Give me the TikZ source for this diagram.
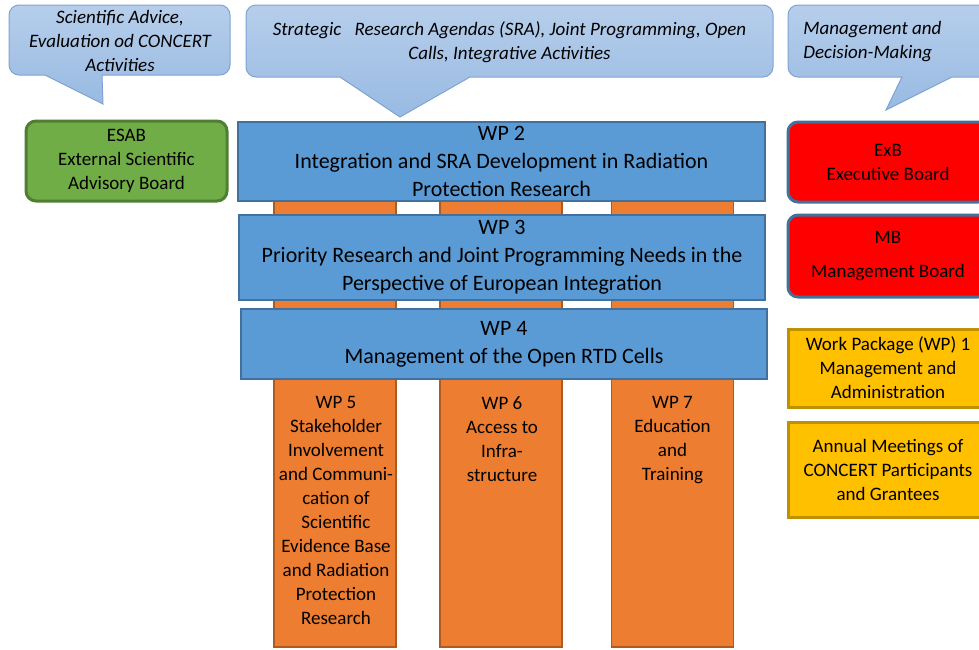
\documentclass[tikz,border=0pt]{standalone}
\usepackage{fontspec}
\setmainfont{Carlito}
\usetikzlibrary{calc, positioning}
\definecolor{wpblue}{HTML}{5B9BD5}
\definecolor{wpblueline}{HTML}{41719C}
\definecolor{wporange}{HTML}{ED7D31}
\definecolor{wporangeline}{HTML}{AE5A21}
\definecolor{esabgreen}{HTML}{70AD47}
\definecolor{esabline}{HTML}{507E32}
\definecolor{boardred}{HTML}{FF0000}
\definecolor{mgmtyellow}{HTML}{FFC000}
\definecolor{mgmtline}{HTML}{BF9000}
\definecolor{bubbletop}{HTML}{B6CEEB}
\definecolor{bubblebottom}{HTML}{98BAE2}
\definecolor{bubbleline}{HTML}{7FA3D3}
\tikzset
{%
wpbox/.style={draw=wpblueline, fill=wpblue, line width=1.2pt, align=center, inner sep=0pt, font=\fontsize{11}{14}\selectfont},
wpcol/.style={draw=wporangeline, fill=wporange, line width=0.8pt, minimum width=61pt, minimum height=223.5pt, inner sep=0pt},
coltext/.style={align=center, inner sep=0pt, font=\fontsize{9.5}{12}\selectfont},
sidebox/.style={line width=1.5pt, align=center, inner sep=0pt, minimum width=100pt, font=\fontsize{9.5}{12}\selectfont},
board/.style={sidebox, draw=wpblueline, fill=boardred, rounded corners=5pt},
mgmt/.style={sidebox, draw=mgmtline, fill=mgmtyellow},
bubble/.style={draw=bubbleline, top color=bubbletop, bottom color=bubblebottom, line width=0.5pt},
bubbletext/.style={align=center, inner sep=0pt, font=\fontsize{9.5}{12}\selectfont\itshape}
}

\begin{document}
\begin{tikzpicture}[x=0.5pt, y=-0.5pt]
	\useasboundingbox (0,0) rectangle (979,649);
	\clip (0,0) rectangle (979,649);

	%Callouts
	\draw[bubble] (103,104) -- (102,75) [rounded corners=5pt] -- (230,75) -- (230,5) -- (9,5) -- (9,75) [sharp corners] -- (45,75) -- cycle;
	\node[bubbletext] (advice) at (120,40.5) {Scientific Advice,\\Evaluation od CONCERT\\Activities};

	\draw[bubble] (400,117) -- (470,77) [rounded corners=5pt] -- (773,77) -- (773,5) -- (246,5) -- (246,77) [sharp corners] -- (340,77) -- cycle;
	\node[bubbletext] (agenda) at (509.5,42) {Strategic\hspace{0.7em}Research Agendas (SRA), Joint Programming, Open\\Calls, Integrative Activities};

	\draw[bubble] (886,110) -- (952,77) [rounded corners=5pt] -- (1000,77) -- (1000,5) -- (788,5) -- (788,77) [sharp corners] -- (902,77) -- cycle;
	\node[bubbletext, align=left, anchor=west] (decision) at (803,42) {Management and\\Decision-Making};

	%Work package columns
	\node[wpcol] (wp5) at (335,423.5) {};
	\node[wpcol] (wp6) at (501,423.5) {};
	\node[wpcol] (wp7) at (672.5,423.5) {};

	%Work package bars
	\node[wpbox, minimum width=263.5pt, minimum height=39.5pt] (wp2) at (501.5,161.5) {WP 2\\Integration and SRA Development in Radiation\\Protection Research};
	\node[wpbox, minimum width=263pt, minimum height=42.5pt] (wp3) at (502,257.5) {WP 3\\Priority Research and Joint Programming Needs in the\\Perspective of European Integration};
	\node[wpbox, minimum width=263pt, minimum height=35pt] (wp4) at (504,344) {WP 4\\Management of the Open RTD Cells};

	\node[coltext, anchor=north] (wp5txt) at (336,396) {WP 5\\Stakeholder\\Involvement\\and Communi-\\cation of\\Scientific\\Evidence Base\\and Radiation\\Protection\\Research};
	\node[coltext, anchor=north] (wp6txt) at (502,396) {WP 6\\Access to\\Infra-\\structure};
	\node[coltext, anchor=north] (wp7txt) at (672.5,396) {WP 7\\Education\\and\\Training};

	%Boards
	\node[sidebox, draw=esabline, fill=esabgreen, rounded corners=5pt, minimum width=100.5pt, minimum height=40pt] (esab) at (126.5,161) {ESAB\\External Scientific\\Advisory Board};
	\node[board, minimum height=40pt] (exb) at (888,162) {ExB\\Executive Board};
	\node[board, minimum height=41pt] (mb) at (888,256) {MB\\[5pt]Management Board};
	\node[mgmt, minimum height=39pt] (wp1) at (888,368) {Work Package (WP) 1\\Management and\\Administration};
	\node[mgmt, minimum height=47.5pt] (meet) at (888,469.5) {Annual Meetings of\\CONCERT Participants\\and Grantees};
\end{tikzpicture}
\end{document}
